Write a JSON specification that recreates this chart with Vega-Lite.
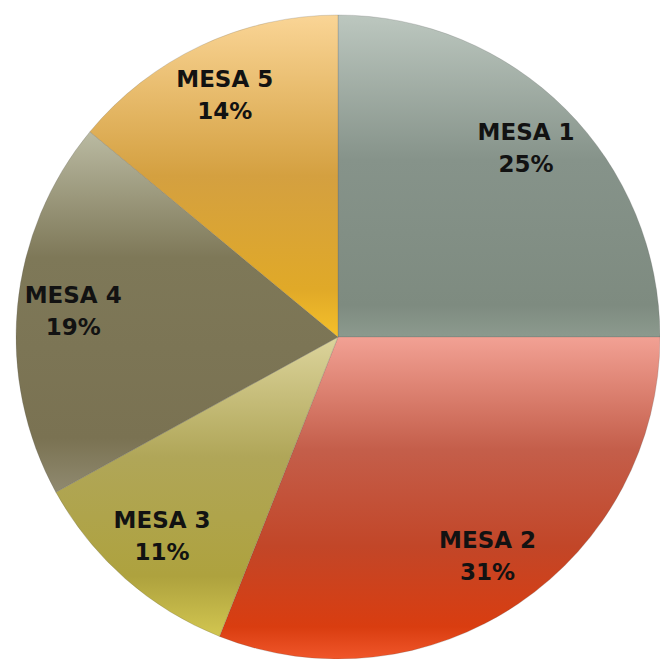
{
  "$schema": "https://vega.github.io/schema/vega-lite/v6.json",
  "width": 644,
  "height": 644,
  "autosize": "none",
  "padding": {"left": 16, "top": 15, "right": 0, "bottom": 0},
  "background": "white",
  "config": {"view": {"stroke": null}},
  "data": {
    "values": [
      {"mesa": "MESA 1", "value": 25, "pct": "25%"},
      {"mesa": "MESA 2", "value": 31, "pct": "31%"},
      {"mesa": "MESA 3", "value": 11, "pct": "11%"},
      {"mesa": "MESA 4", "value": 19, "pct": "19%"},
      {"mesa": "MESA 5", "value": 14, "pct": "14%"}
    ]
  },
  "encoding": {
    "theta": {"field": "value", "type": "quantitative", "stack": true},
    "order": {"field": "mesa", "sort": "ascending"}
  },
  "layer": [
    {
      "mark": {"type": "arc", "radius": 322, "stroke": "#555", "strokeWidth": 0.6, "strokeOpacity": 0.35},
      "encoding": {
        "fill": {
          "condition": [
            {"test": "datum.mesa === 'MESA 1'", "value": {"gradient": "linear", "x1": 0, "y1": 0, "x2": 0, "y2": 1, "stops": [
                {"offset": 0, "color": "#bcc7bf"},
                {"offset": 0.45, "color": "#86938a"},
                {"offset": 0.9, "color": "#7e8b80"},
                {"offset": 1, "color": "#8c9a8e"}]}},
            {"test": "datum.mesa === 'MESA 2'", "value": {"gradient": "linear", "x1": 0, "y1": 0, "x2": 0, "y2": 1, "stops": [
                {"offset": 0, "color": "#f2a194"},
                {"offset": 0.35, "color": "#c45e4a"},
                {"offset": 0.65, "color": "#c24628"},
                {"offset": 0.9, "color": "#d93d10"},
                {"offset": 1, "color": "#f0562a"}]}},
            {"test": "datum.mesa === 'MESA 3'", "value": {"gradient": "linear", "x1": 0, "y1": 0, "x2": 0, "y2": 1, "stops": [
                {"offset": 0, "color": "#dcd49c"},
                {"offset": 0.4, "color": "#b0a658"},
                {"offset": 0.8, "color": "#aea23e"},
                {"offset": 1, "color": "#d2c650"}]}},
            {"test": "datum.mesa === 'MESA 4'", "value": {"gradient": "linear", "x1": 0, "y1": 0, "x2": 0, "y2": 1, "stops": [
                {"offset": 0, "color": "#babaa2"},
                {"offset": 0.35, "color": "#7e7858"},
                {"offset": 0.85, "color": "#7a7252"},
                {"offset": 1, "color": "#908a70"}]}}
          ],
          "value": {"gradient": "linear", "x1": 0, "y1": 0, "x2": 0, "y2": 1, "stops": [
                {"offset": 0, "color": "#fad596"},
                {"offset": 0.5, "color": "#d4a040"},
                {"offset": 0.85, "color": "#e0a928"},
                {"offset": 1, "color": "#f5c02a"}]}
        }
      }
    },
    {
      "mark": {"type": "text", "radius": 266, "dy": -16, "font": "DejaVu Sans", "fontWeight": "bold", "fontSize": 23, "fill": "#121212"},
      "encoding": {"text": {"field": "mesa"}}
    },
    {
      "mark": {"type": "text", "radius": 266, "dy": 16, "font": "DejaVu Sans", "fontWeight": "bold", "fontSize": 23, "fill": "#121212"},
      "encoding": {"text": {"field": "pct"}}
    }
  ]
}
